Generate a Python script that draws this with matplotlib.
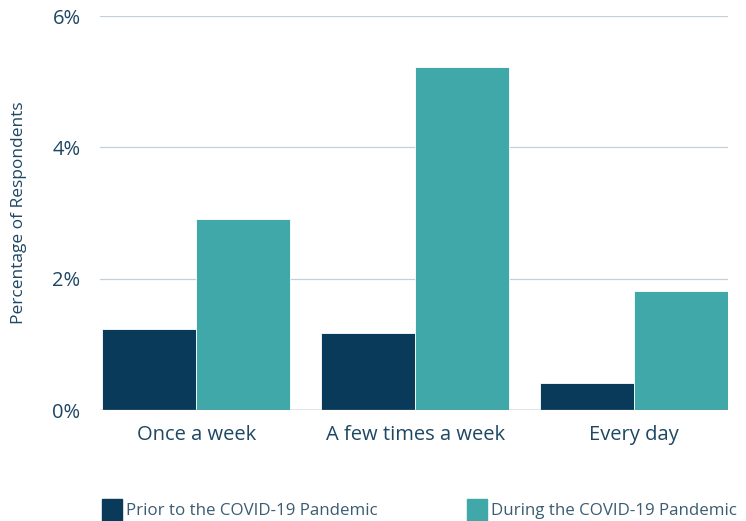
import matplotlib.pyplot as plt
import numpy as np

categories = ["Once a week", "A few times a week", "Every day"]
prior = [1.24, 1.17, 0.41]
during = [2.91, 5.22, 1.82]
series_names = ["Prior to the COVID-19 Pandemic", "During the COVID-19 Pandemic"]

plt.rcParams['font.family'] = ['Open Sans', 'DejaVu Sans']
dark = "#0a3a5a"
teal = "#41a8a9"
text_col = "#1e4763"

fig = plt.figure(figsize=(7.46, 5.21), dpi=100)
ax = fig.add_axes([0.134, 0.213, 0.842, 0.756])

x = np.arange(len(categories))
w = 0.43
ax.bar(x - w / 2, prior, w, color=dark, edgecolor="white", linewidth=0.6, zorder=3)
ax.bar(x + w / 2, during, w, color=teal, edgecolor="white", linewidth=0.6, zorder=3)

ax.set_xlim(-0.44, 2.43)
ax.set_ylim(0, 6)
ax.set_yticks([0, 2, 4, 6])
ax.set_yticklabels(["0%", "2%", "4%", "6%"])
ax.set_xticks(x)
ax.set_xticklabels(categories)
ax.tick_params(axis="both", length=0, labelsize=14.5, labelcolor=text_col)
ax.tick_params(axis="y", pad=14)
ax.tick_params(axis="x", pad=11)
ax.grid(axis="y", color="#c3d0da", linewidth=0.9, zorder=0)
for s in ax.spines.values():
    s.set_visible(False)
ax.axhline(0, color="#7d97aa", linewidth=1, zorder=4)
ax.set_ylabel("Percentage of Respondents", fontsize=12.5, color=text_col, labelpad=18)

# legend drawn as two handles spread across the bottom
for xpos, col, name in [(0.137, dark, series_names[0]), (0.626, teal, series_names[1])]:
    fig.patches.append(plt.Rectangle((xpos, 0.0), 0.027, 0.042, transform=fig.transFigure,
                                     color=col, figure=fig))
    fig.text(xpos + 0.032, 0.02, name, fontsize=12.2, color="#3b5c72", va="center")

fig.savefig("out.png", dpi=100)
